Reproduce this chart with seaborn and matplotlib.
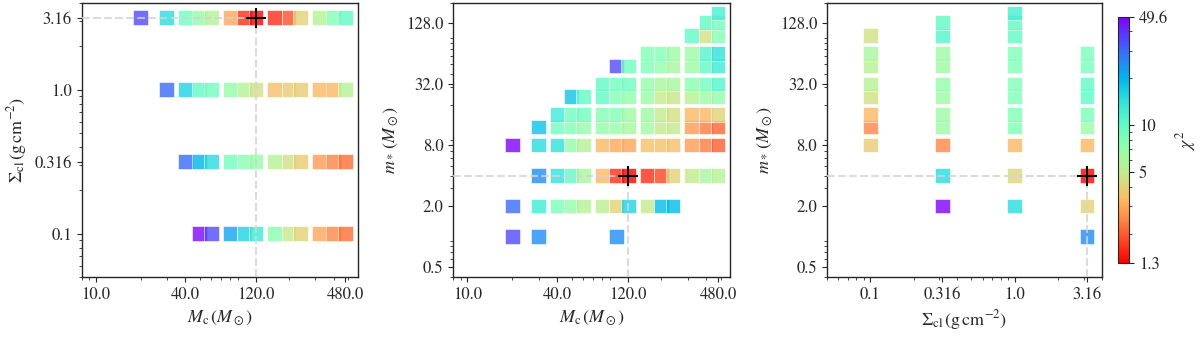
import numpy as np
import pandas as pd
import matplotlib
matplotlib.use('Agg')
import matplotlib.pyplot as plt
import seaborn as sns
from matplotlib.colors import LogNorm
from matplotlib.cm import ScalarMappable
from matplotlib.ticker import FixedLocator, FixedFormatter, NullFormatter

nan = np.nan

# model grids
mc_grid = [10, 20, 30, 40, 50, 60, 80, 100, 120, 160, 200, 240, 320, 400, 480]
sigma_grid = [0.1, 0.316, 1.0, 3.16]
mstar_grid = [1, 2, 4, 8, 12, 16, 24, 32, 48, 64, 96, 128, 160]

# best model
best_mc = 120
best_sigma = 3.16
best_mstar = 4

# panel 1: chi2 over mc_grid, one list per sigma
chi_p1_s01 = [nan, nan, nan, nan, 48, 35, 22, 16, 13, 7.5, 5, 4, 3, 2.5, 2.2]
chi_p1_s03 = [nan, nan, nan, 30, 20, 15, 9, 7.5, 7, 5.5, 4.5, 3.8, 2.8, 2.4, 2.2]
chi_p1_s1 = [nan, nan, 30, 16, 10, 9, 7, 5.5, 4.5, 3.5, 3.8, 3.8, 3.3, 3.3, 5.5]
chi_p1_s3 = [nan, 35, 15, 9, 7, 5.5, 3, 1.6, 1.3, 1.6, 1.9, 4, 5.5, 8, 10]

# panel 2: chi2 over mc_grid, one list per m*
chi_p2_m1 = [nan, 35, 25, nan, nan, nan, nan, 25, nan, nan, nan, nan, nan, nan, nan]
chi_p2_m2 = [nan, 30, 13, 8.5, 7, 5.5, 5.3, 4, 16, 5, 19, 19, nan, nan, nan]
chi_p2_m4 = [nan, nan, 25, 14, 10, 6, 3.3, 1.6, 1.3, 1.6, 1.8, 4, 5, 6, 5.5]
chi_p2_m8 = [nan, 49, 15, 14, 7, 5.5, 3.3, 3, 3, 3.5, 3.5, 3.5, 2.8, 2.3, 2]
chi_p2_m12 = [nan, nan, 18, 9, 8, 7, 7, 7, 6, 6.5, 5, 5, 2.8, 2.3, 2.1]
chi_p2_m16 = [nan, nan, nan, 13, 9, 9, 8, 8, 6.5, 6.5, 5, 4.5, 3.3, 3.3, 4]
chi_p2_m24 = [nan, nan, nan, nan, 18, 10, 10, 8, 7, 6.5, 5, 4.8, 5.5, 6.5, 7]
chi_p2_m32 = [nan, nan, nan, nan, nan, nan, 10, 9, 9, 7, 6, 6, 7.5, 9, 11]
chi_p2_m48 = [nan, nan, nan, nan, nan, nan, nan, 35, 9, 8, 7, 6, 6.5, 10, 13]
chi_p2_m64 = [nan, nan, nan, nan, nan, nan, nan, nan, nan, 8, 8, 6.5, 6.5, 11, 14]
chi_p2_m96 = [nan, nan, nan, nan, nan, nan, nan, nan, nan, nan, nan, nan, 10, 4.5, 8]
chi_p2_m128 = [nan, nan, nan, nan, nan, nan, nan, nan, nan, nan, nan, nan, nan, 10, 9]
chi_p2_m160 = [nan, nan, nan, nan, nan, nan, nan, nan, nan, nan, nan, nan, nan, nan, 12]

# panel 3: chi2 over mstar_grid, one list per sigma
chi_p3_s01 = [nan, nan, nan, 3.8, 2.5, 3.3, 4.5, 5.5, 5.5, 6, 4.5, nan, nan]
chi_p3_s03 = [nan, 49, 15, 2.5, 6.5, 6.5, 6.5, 7, 6.5, 6.5, 11, 10, nan]
chi_p3_s1 = [nan, 15, 4.2, 3.3, 8, 8, 8, 8, 8, 8, 10, 10, 12]
chi_p3_s3 = [25, 4, 1.3, 3.3, 6.5, 8.5, 10, 10, 8.5, 8.5, nan, nan, nan]

cbar_ticks = [1.3, 5, 10, 49.6]
mc_ticks = [10, 40, 120, 480]
sigma_ticks = [0.1, 0.316, 1.0, 3.16]
mstar_ticks = [0.5, 2, 8, 32, 128]


def long_frame(xs, ys, rows, xname, yname):
    recs = []
    for yv, row in zip(ys, rows):
        for xv, c in zip(xs, row):
            if not np.isnan(c):
                recs.append({xname: xv, yname: yv, 'chi2': c})
    return pd.DataFrame(recs)


df1 = long_frame(mc_grid, sigma_grid, [chi_p1_s01, chi_p1_s03, chi_p1_s1, chi_p1_s3], 'mc', 'sigma')
df2 = long_frame(mc_grid, mstar_grid,
                 [chi_p2_m1, chi_p2_m2, chi_p2_m4, chi_p2_m8, chi_p2_m12, chi_p2_m16, chi_p2_m24,
                  chi_p2_m32, chi_p2_m48, chi_p2_m64, chi_p2_m96, chi_p2_m128, chi_p2_m160], 'mc', 'mstar')
df3 = long_frame(mstar_grid, sigma_grid, [chi_p3_s01, chi_p3_s03, chi_p3_s1, chi_p3_s3], 'mstar', 'sigma')

sns.set_style('ticks')
plt.rcParams['font.family'] = ['STIXGeneral', 'DejaVu Serif']
plt.rcParams['mathtext.fontset'] = 'stix'
plt.rcParams['font.size'] = 12

norm = LogNorm(vmin=1.3, vmax=49.6)
cmap = plt.get_cmap('rainbow_r')

fig = plt.figure(figsize=(12, 3.37), dpi=100)
ax1 = fig.add_axes([0.068, 0.178, 0.230, 0.813])
ax2 = fig.add_axes([0.3775, 0.178, 0.231, 0.813])
ax3 = fig.add_axes([0.689, 0.178, 0.229, 0.813])
cax = fig.add_axes([0.932, 0.22, 0.009, 0.73])

lab_mc = r'$M_{\rm c}\,(M_\odot)$'
lab_sig = r'$\Sigma_{\rm cl}\,({\rm g\,cm^{-2}})$'
lab_ms = r'$m_*\,(M_\odot)$'

panels = [
    (ax1, df1, 'mc', 'sigma', best_mc, best_sigma, (8, 580), (0.05, 4.0), mc_ticks, sigma_ticks, lab_mc, lab_sig),
    (ax2, df2, 'mc', 'mstar', best_mc, best_mstar, (8, 580), (0.4, 200), mc_ticks, mstar_ticks, lab_mc, lab_ms),
    (ax3, df3, 'sigma', 'mstar', best_sigma, best_mstar, (0.05, 4.0), (0.4, 200), sigma_ticks, mstar_ticks, lab_sig, lab_ms),
]

for ax, df, xc, yc, bx, by, xlim, ylim, xt, yt, xl, yl in panels:
    sns.scatterplot(data=df, x=xc, y=yc, hue='chi2', hue_norm=norm, palette='rainbow_r',
                    marker='s', s=110, alpha=0.8, edgecolor='white', linewidth=0.5,
                    legend=False, ax=ax, zorder=2)
    ax.set_xscale('log')
    ax.set_yscale('log')
    ax.set_xlim(*xlim)
    ax.set_ylim(*ylim)
    ax.plot([xlim[0], bx], [by, by], ls='--', color='lightgray', lw=1.5, alpha=0.8, zorder=3)
    ax.plot([bx, bx], [ylim[0], by], ls='--', color='lightgray', lw=1.5, alpha=0.8, zorder=3)
    ax.plot(bx, by, marker='+', color='k', ms=15, mew=1.5, zorder=4)
    ax.xaxis.set_major_locator(FixedLocator(xt))
    ax.xaxis.set_major_formatter(FixedFormatter([str(float(v)) for v in xt]))
    ax.yaxis.set_major_locator(FixedLocator(yt))
    ax.yaxis.set_major_formatter(FixedFormatter([str(float(v)) for v in yt]))
    ax.xaxis.set_minor_formatter(NullFormatter())
    ax.yaxis.set_minor_formatter(NullFormatter())
    ax.tick_params(which='both', direction='out', labelsize=12)
    ax.set_xlabel(xl, fontsize=13)
    ax.set_ylabel(yl, fontsize=13)
    for sp in ax.spines.values():
        sp.set_linewidth(1.0)

sm = ScalarMappable(norm=norm, cmap=cmap)
cb = fig.colorbar(sm, cax=cax)
cb.set_ticks(cbar_ticks)
cb.set_ticklabels(['1.3', '5', '10', '49.6'])
cb.ax.tick_params(labelsize=12)
cb.set_label(r'$\chi^2$', fontsize=13)

fig.savefig('out.png', dpi=100)
